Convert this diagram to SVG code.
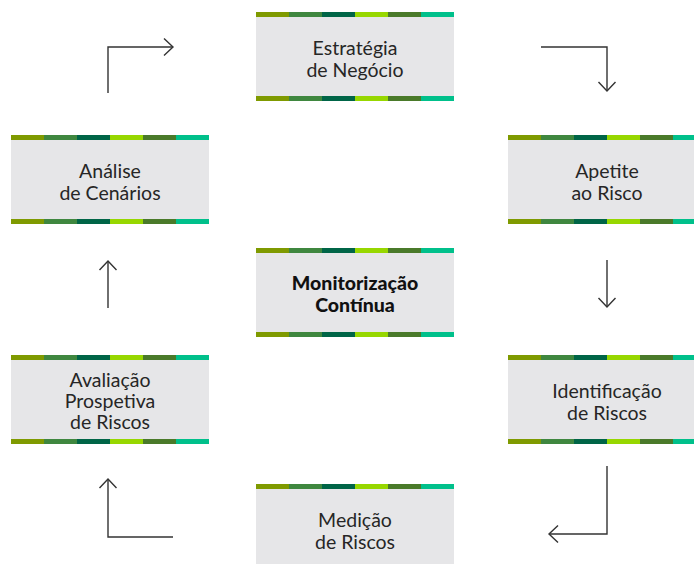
<svg xmlns="http://www.w3.org/2000/svg" xmlns:xlink="http://www.w3.org/1999/xlink" width="694" height="564" viewBox="0 0 694 564">
<style>
.bg{fill:#e6e6e8}
.t{font-family:Lato,"Liberation Sans",sans-serif;font-size:19.5px;font-weight:400;fill:#262626;text-anchor:middle}
.b{font-weight:900;fill:#111}
.c{fill:none;stroke:#333;stroke-width:1.4}
</style>
<defs>
<g id="stripe">
<rect x="0" y="0" width="33" height="5" fill="#7f9a00"/>
<rect x="33" y="0" width="33" height="5" fill="#3f873f"/>
<rect x="66" y="0" width="33" height="5" fill="#006547"/>
<rect x="99" y="0" width="33" height="5" fill="#97d700"/>
<rect x="132" y="0" width="33" height="5" fill="#4a7a2a"/>
<rect x="165" y="0" width="33" height="5" fill="#00c08b"/>
</g>
<g id="box">
<use xlink:href="#stripe"/>
<rect class="bg" x="0" y="5" width="198" height="79"/>
<use xlink:href="#stripe" y="84"/>
</g>
<marker id="arr" markerUnits="userSpaceOnUse" viewBox="-12 -10 14 20" refX="0" refY="0" markerWidth="14" markerHeight="20" orient="auto" overflow="visible">
<path d="M-9,-8.5 L0,0 L-9,8.5" fill="none" stroke="#333" stroke-width="1.4"/>
</marker>
</defs>
<g id="connectors">
<path class="c" d="M108,93 V47 H173" marker-end="url(#arr)"/>
<path class="c" d="M541,47 H607 V91" marker-end="url(#arr)"/>
<path class="c" d="M607,260 V307" marker-end="url(#arr)"/>
<path class="c" d="M607,466 V534 H549" marker-end="url(#arr)"/>
<path class="c" d="M173,537 H108 V479" marker-end="url(#arr)"/>
<path class="c" d="M108,308 V261" marker-end="url(#arr)"/>
</g>
<g id="estrategia" transform="translate(256,12)">
<use xlink:href="#box"/>
<text class="t" x="99" y="43">Estratégia</text>
<text class="t" x="99" y="65">de Negócio</text>
</g>
<g id="apetite" transform="translate(508,135)">
<use xlink:href="#box"/>
<text class="t" x="99" y="43">Apetite</text>
<text class="t" x="99" y="65">ao Risco</text>
</g>
<g id="identificacao" transform="translate(508,355)">
<use xlink:href="#box"/>
<text class="t" x="99" y="43">Identificação</text>
<text class="t" x="99" y="64.5">de Riscos</text>
</g>
<g id="medicao" transform="translate(256,484)">
<use xlink:href="#box"/>
<text class="t" x="99" y="43">Medição</text>
<text class="t" x="99" y="64.5">de Riscos</text>
</g>
<g id="avaliacao" transform="translate(11,355)">
<use xlink:href="#box"/>
<text class="t" x="99" y="32">Avaliação</text>
<text class="t" x="99" y="53">Prospetiva</text>
<text class="t" x="99" y="74">de Riscos</text>
</g>
<g id="analise" transform="translate(11,135)">
<use xlink:href="#box"/>
<text class="t" x="99" y="43">Análise</text>
<text class="t" x="99" y="65">de Cenários</text>
</g>
<g id="monitorizacao" transform="translate(256,248)">
<use xlink:href="#box"/>
<text class="t b" x="99" y="42">Monitorização</text>
<text class="t b" x="99" y="64">Contínua</text>
</g>
</svg>
